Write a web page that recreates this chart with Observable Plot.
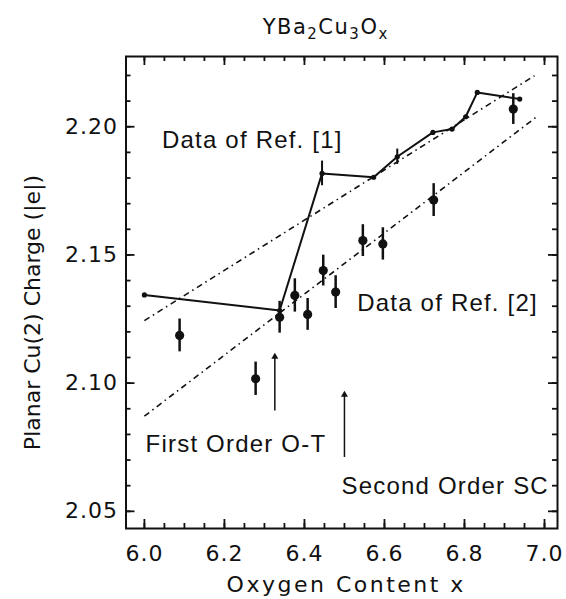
<!DOCTYPE html>
<html><head><meta charset="utf-8">
<script src="https://cdn.jsdelivr.net/npm/d3@7"></script>
<script src="https://cdn.jsdelivr.net/npm/@observablehq/plot@0.6"></script>
<style>
body{margin:0;background:#fff}
svg{display:block}
</style>
</head><body>
<div id="chart"></div>
<script>
// Data of Ref. [2] (filled circles with error bars)
const ref2X = [6.088, 6.278, 6.338, 6.376, 6.408, 6.447, 6.478, 6.546, 6.596, 6.723, 6.922];
const ref2Y = [2.1186, 2.1017, 2.1257, 2.1342, 2.1268, 2.1439, 2.1355, 2.1556, 2.1543, 2.1714, 2.2069];
const ref2Err = [0.0064, 0.0065, 0.0062, 0.0065, 0.0062, 0.0060, 0.0064, 0.0062, 0.0063, 0.0064, 0.0060];
// Data of Ref. [1] (connected line with small dots)
const ref1X = [6.0, 6.338, 6.444, 6.573, 6.632, 6.721, 6.769, 6.803, 6.832, 6.938];
const ref1Y = [2.1344, 2.1283, 2.1818, 2.1803, 2.1883, 2.1978, 2.1991, 2.2039, 2.2134, 2.2108];
const ref1Err = [0, 0, 0.0048, 0, 0.003, 0, 0, 0, 0, 0];
// Linear fit lines (dash-dot)
const fitX1 = [6.0, 6.0];
const fitY1 = [2.1244, 2.0871];
const fitX2 = [6.975, 6.978];
const fitY2 = [2.2199, 2.2036];
// Transition arrows
const arrowX = [6.326, 6.500];
const arrowY1 = [2.0893, 2.0712];
const arrowY2 = [2.1103, 2.0955];
// Annotations
const notes = ["Data of Ref. [1]", "Data of Ref. [2]", "First Order O-T", "Second Order SC"];
const noteX = [6.044, 6.532, 6.003, 6.4925];
const noteY = [2.1919, 2.1283, 2.0733, 2.0569];
// Axis ticks and labels
const xMajor = [6.0, 6.2, 6.4, 6.6, 6.8, 7.0];
const xMinor = d3.range(6.0, 7.001, 0.05);
const yMajor = [2.05, 2.10, 2.15, 2.20];
const yMinor = d3.range(2.05, 2.2201, 0.01);
const titleText = "YBa₂Cu₃Oₓ";
const titleParts = [["YBa", false], ["2", true], ["Cu", false], ["3", true], ["O", false], ["x", true]];
const xTitle = "Oxygen Content x";
const yTitle = "Planar Cu(2) Charge (|e|)";

const ref2 = ref2X.map((x, i) => ({x, y: ref2Y[i], e: ref2Err[i]}));
const ref1 = ref1X.map((x, i) => ({x, y: ref1Y[i], e: ref1Err[i]}));
const fits = fitX1.map((x, i) => ({x1: x, y1: fitY1[i], x2: fitX2[i], y2: fitY2[i]}));
const arrows = arrowX.map((x, i) => ({x, y1: arrowY1[i], y2: arrowY2[i]}));
const ann = notes.map((t, i) => ({t, x: noteX[i], y: noteY[i]}));

const W = 566, H = 599, mL = 125.5, mR = 9, mT = 56, mB = 71;
const xDom = [5.954, 7.0325], yDom = [2.0433, 2.2274];
const perPxX = (xDom[1] - xDom[0]) / (W - mL - mR);
const perPxY = (yDom[1] - yDom[0]) / (H - mT - mB);
const ink = "#111";
const tickFont = "DejaVu Sans";
const tk = {stroke: ink, strokeWidth: 1.8};
// inward ticks on all four sides (length given in pixels, converted through the scale span)
const xTicks = (vals, len) => [
  Plot.ruleX(vals, {x: d => d, y1: yDom[0], y2: yDom[0] + len * perPxY, ...tk}),
  Plot.ruleX(vals, {x: d => d, y1: yDom[1], y2: yDom[1] - len * perPxY, ...tk})
];
const yTicks = (vals, len) => [
  Plot.ruleY(vals, {y: d => d, x1: xDom[0], x2: xDom[0] + len * perPxX, ...tk}),
  Plot.ruleY(vals, {y: d => d, x1: xDom[1], x2: xDom[1] - len * perPxX, ...tk})
];
const chart = Plot.plot({
  width: W,
  height: H,
  marginLeft: mL,
  marginRight: mR,
  marginTop: mT,
  marginBottom: mB,
  style: {background: "#fff", color: ink, fontFamily: tickFont},
  x: {domain: xDom},
  y: {domain: yDom},
  marks: [
    ...xTicks(xMinor, 5),
    ...xTicks(xMajor, 9),
    ...yTicks(yMinor, 5),
    ...yTicks(yMajor, 9),
    Plot.frame({stroke: ink, strokeWidth: 2}),
    // tick labels
    Plot.axisX(xMajor, {anchor: "bottom", tickSize: 0, tickPadding: 17, tickFormat: d3.format(".1f"), label: null, fontSize: 22, fontFamily: tickFont, fill: ink}),
    Plot.axisY(yMajor, {anchor: "left", tickSize: 0, tickPadding: 8, tickFormat: d3.format(".2f"), label: null, fontSize: 22, fontFamily: tickFont, fill: ink}),
    // fit lines
    Plot.link(fits, {x1: "x1", y1: "y1", x2: "x2", y2: "y2", stroke: ink, strokeWidth: 1.6, strokeDasharray: "6,4,1.5,4"}),
    // Ref [1]
    Plot.line(ref1, {x: "x", y: "y", stroke: ink, strokeWidth: 2}),
    Plot.ruleX(ref1.filter(d => d.e > 0), {x: "x", y1: d => d.y - d.e, y2: d => d.y + d.e, stroke: ink, strokeWidth: 2}),
    Plot.dot(ref1, {x: "x", y: "y", r: 2.6, fill: ink, stroke: "none"}),
    // Ref [2]
    Plot.ruleX(ref2, {x: "x", y1: d => d.y - d.e, y2: d => d.y + d.e, stroke: ink, strokeWidth: 2.5}),
    Plot.dot(ref2, {x: "x", y: "y", r: 4.6, fill: ink, stroke: "none"}),
    // arrows
    Plot.link(arrows, {x1: "x", x2: "x", y1: "y1", y2: "y2", stroke: ink, strokeWidth: 1.5}),
    Plot.dot(arrows, {x: "x", y: "y2", symbol: "triangle", r: 2.6, fill: ink, stroke: "none"}),
    // annotations
    Plot.text(ann, {x: "x", y: "y", text: "t", textAnchor: "start", lineAnchor: "bottom", fontSize: 24, fontFamily: "Liberation Sans", fill: ink}),
    // title and axis titles
    Plot.text([titleText], {frameAnchor: "top", textAnchor: "middle", dx: -16, dy: -23, lineAnchor: "bottom", fontSize: 21, fontFamily: tickFont, fill: ink}),
    Plot.text([xTitle], {frameAnchor: "bottom", textAnchor: "middle", dx: 4.5, dy: 63, lineAnchor: "bottom", fontSize: 22, fontFamily: tickFont, fill: ink}),
    Plot.text([yTitle], {frameAnchor: "left", textAnchor: "middle", dx: -86, dy: 20, rotate: -90, lineAnchor: "bottom", fontSize: 22, fontFamily: tickFont, fill: ink})
  ]
});
// letter spacing and subscripts (styling only)
const xLabels = xMajor.map(d3.format(".1f"));
const yLabels = yMajor.map(d3.format(".2f"));
d3.select(chart).selectAll("text").each(function () {
  const t = this.textContent;
  const s = d3.select(this);
  if (xLabels.includes(t) || yLabels.includes(t)) s.style("letter-spacing", "1px");
  else if (notes.includes(t)) s.style("letter-spacing", "1.2px");
  else if (t === xTitle) s.style("letter-spacing", "2.5px");
  else if (t === titleText) {
    s.style("letter-spacing", "1.5px").text(null);
    titleParts.forEach(([p, sub]) => {
      s.append("tspan").text(p)
        .attr("font-size", sub ? 15 : null)
        .attr("baseline-shift", sub ? "-30%" : null);
    });
  }
});
document.getElementById("chart").appendChild(chart);
</script>
</body></html>
